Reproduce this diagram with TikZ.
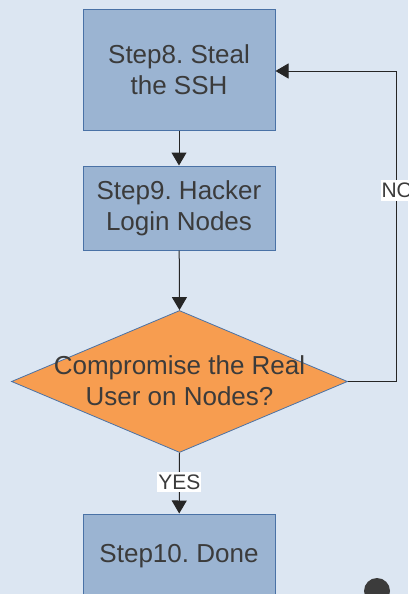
\documentclass[tikz,border=0pt]{standalone}
\usepackage{fontspec}
\setmainfont{Liberation Sans}
\frenchspacing
\usetikzlibrary{shapes.geometric,arrows.meta}
\definecolor{bgblue}{HTML}{DCE6F2}
\definecolor{boxfill}{HTML}{9BB4D2}
\definecolor{boxline}{HTML}{4A72A6}
\definecolor{decfill}{HTML}{F79D50}
\definecolor{txtgray}{HTML}{3B3B3B}
\tikzset{
  stepbox/.style={draw=boxline, fill=boxfill, line width=1pt,
    minimum width=192pt, inner sep=0pt, align=center,
    text=txtgray, font=\fontsize{26}{31}\selectfont},
  decision/.style={diamond, draw=boxline, fill=decfill, line width=0.8pt,
    minimum width=336pt, minimum height=142pt, inner sep=0pt},
  bigtext/.style={align=center, text=txtgray, font=\fontsize{26}{31}\selectfont},
  flow/.style={line width=1pt, draw=black!85, -{Triangle[width=15pt,length=13pt]}},
  tag/.style={fill=white, text=txtgray, inner xsep=1pt, inner ysep=3pt,
    font=\fontsize{21}{23}\selectfont}
}
\begin{document}
\begin{tikzpicture}[x=1pt, y=-1pt]
  \fill[bgblue] (0,0) rectangle (408,594);
  \useasboundingbox (0,0) rectangle (408,594);

  \node[stepbox, minimum height=120pt] (s8) at (179,70) {Step8. Steal\\the SSH};
  \node[stepbox, minimum height=84pt] (s9) at (179,208) {Step9. Hacker\\Login Nodes};
  \node[decision] (q) at (179.5,381.5) {};
  \node[bigtext] (qt) at (179.5,381) {Compromise the Real\\User on Nodes?};
  \node[stepbox, minimum height=84pt] (s10) at (179,556) {Step10. Done};

  \coordinate (loopb) at (396,381.5);
  \coordinate (loopt) at (396,71);

  \draw[flow] (s8) -- (s9);
  \draw[flow] (s9) -- (q.north);
  \draw[flow] (q.south) -- node[tag, pos=0.48] (yes) {YES} (s10);
  \draw[flow] (q.east) -- (loopb) -- node[tag, pos=0.616, anchor=west, xshift=-16pt] (no) {NO} (loopt) -- (s8.east |- loopt);

  \node[circle, fill=txtgray, minimum size=26pt, inner sep=0pt] (dot) at (377,591) {};
\end{tikzpicture}
\end{document}
